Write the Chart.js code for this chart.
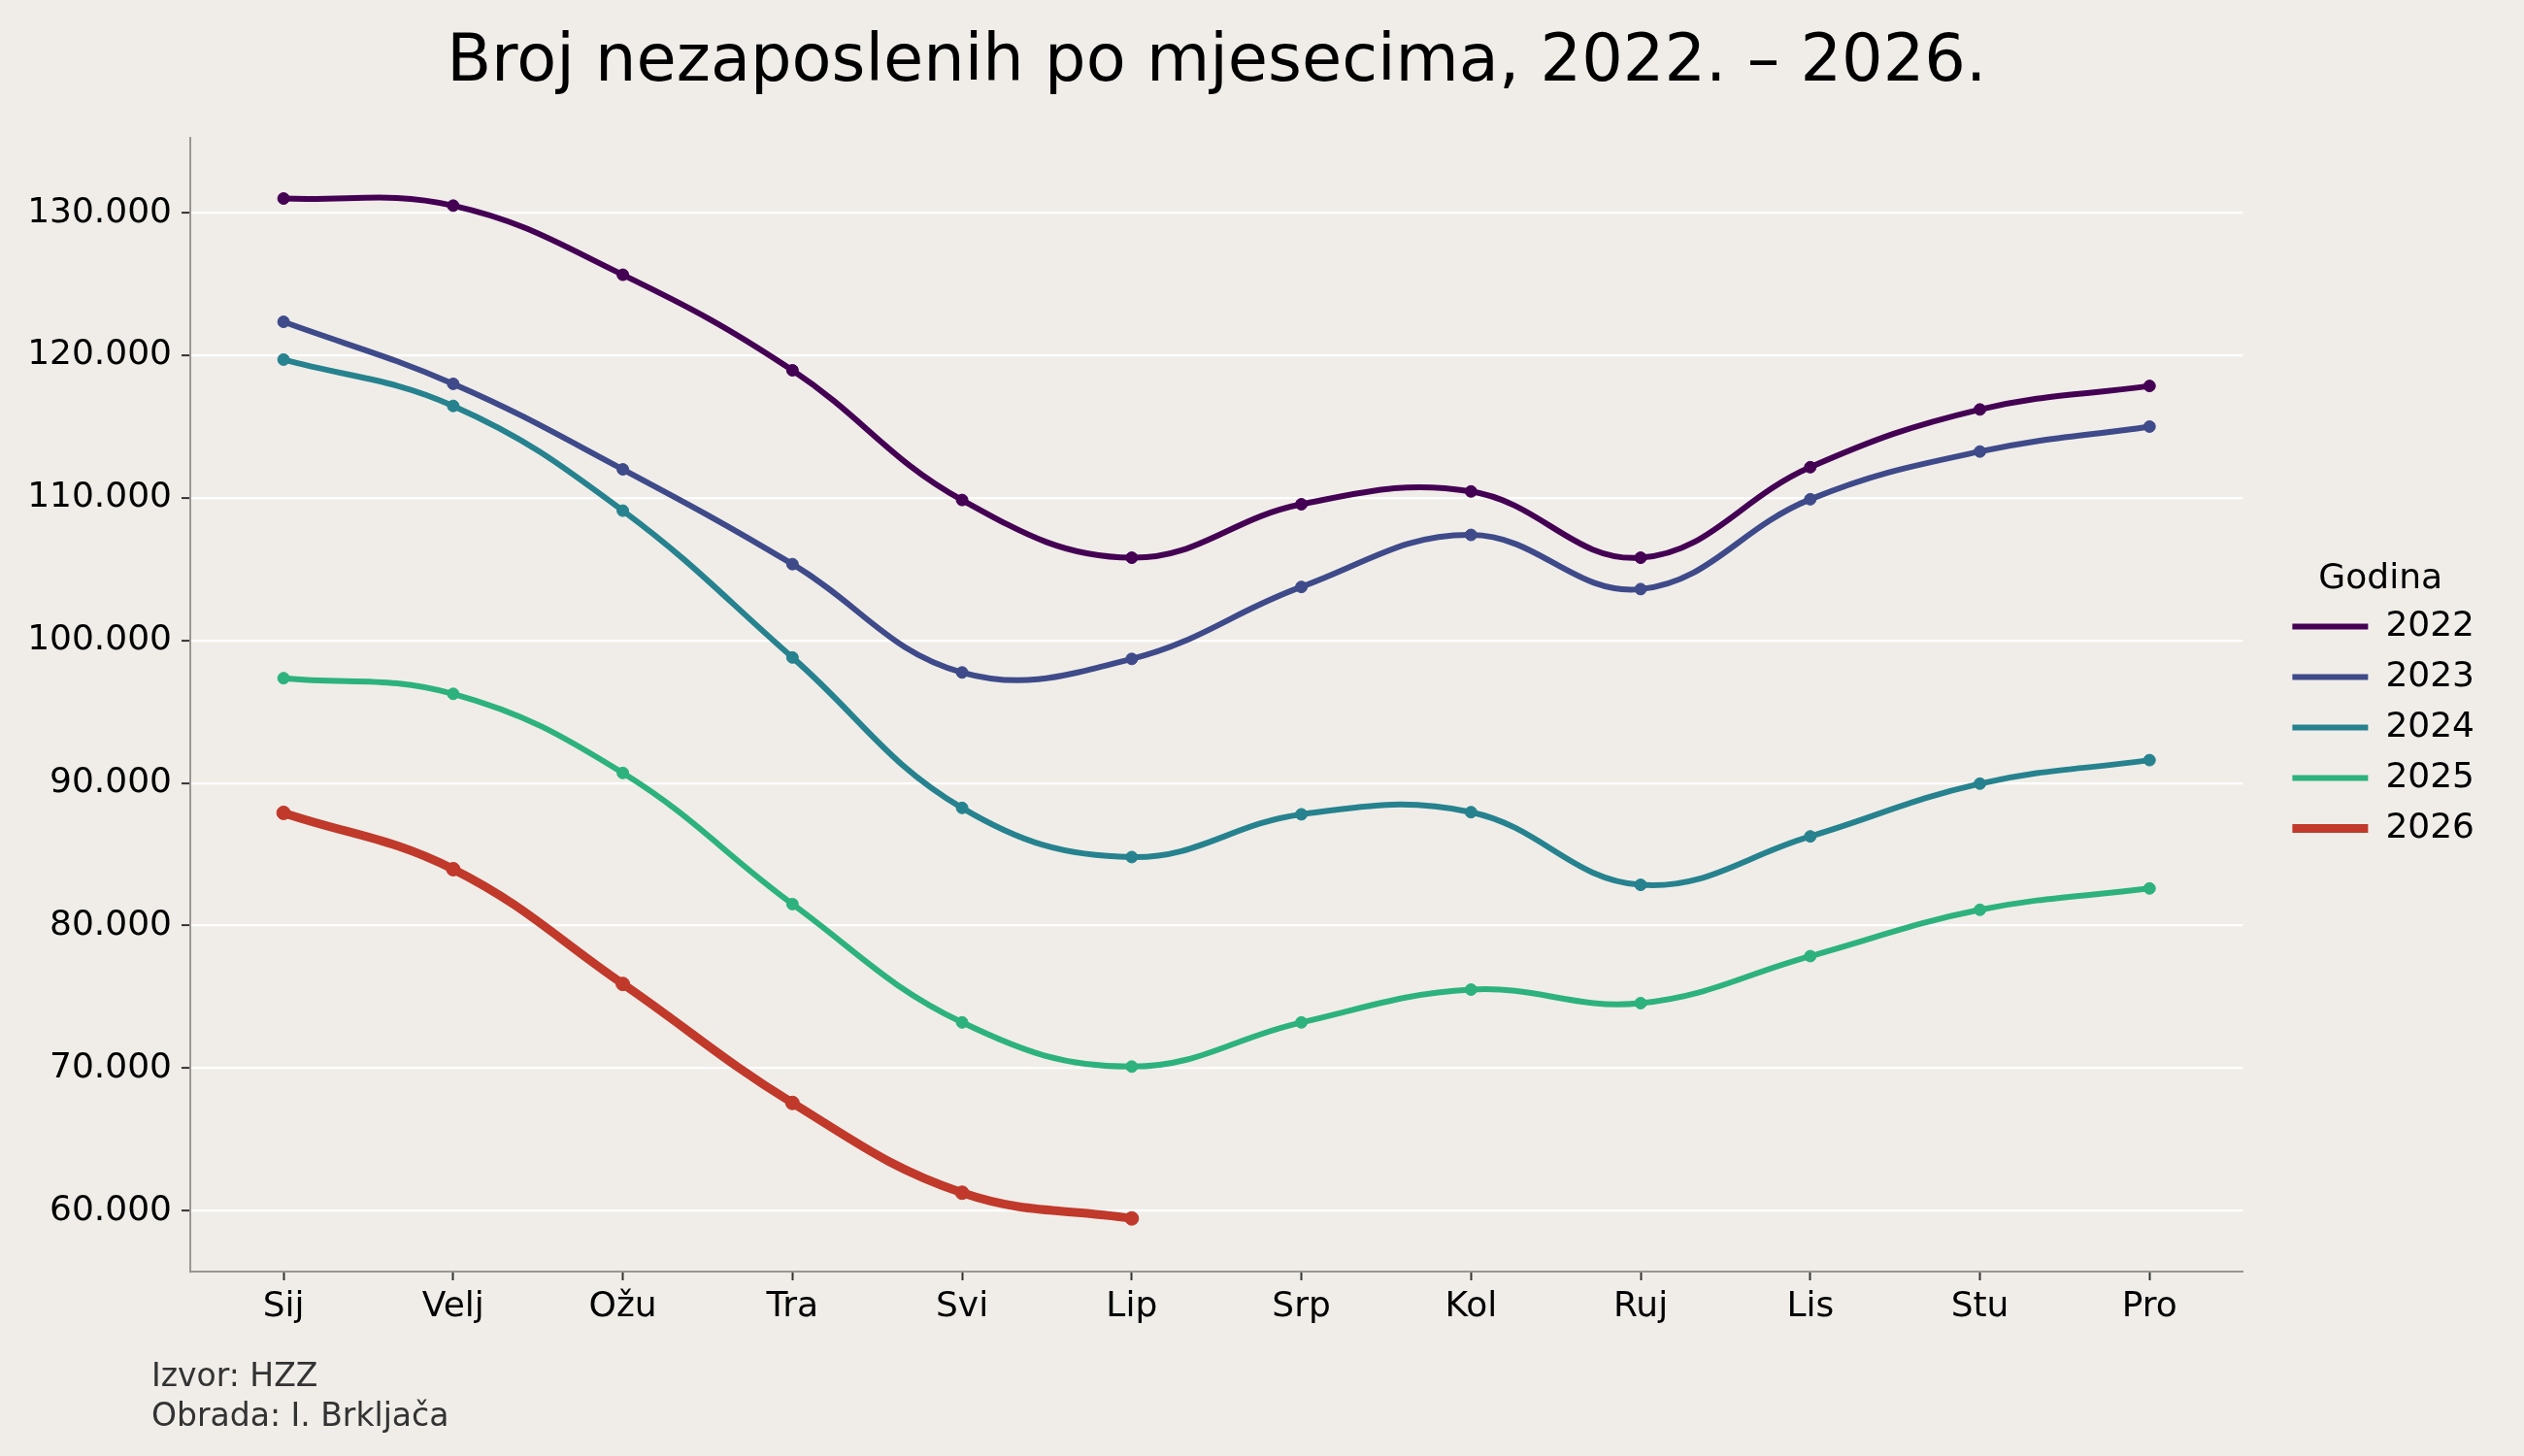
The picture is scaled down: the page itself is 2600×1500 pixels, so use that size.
<!DOCTYPE html>
<html lang="hr">
<head>
<meta charset="utf-8">
<title>Broj nezaposlenih po mjesecima, 2022. – 2026.</title>
<script src="https://cdn.jsdelivr.net/npm/chart.js@4.4.1/dist/chart.umd.min.js"></script>
<style>
  html, body { margin: 0; padding: 0; background: #f0ede8; }
  #wrap { position: relative; width: 2600px; height: 1500px; }
  #source {
    position: absolute;
    left: 156px;
    top: 1396px;
    font-family: "DejaVu Sans", sans-serif;
    font-size: 33px;
    line-height: 41px;
    color: #333333;
  }
</style>
</head>
<body>
<div id="wrap">
  <canvas id="chart"></canvas>
  <div id="source">Izvor: HZZ<br>Obrada: I. Brkljača</div>
</div>
<script>
// Data
const months = ["Sij", "Velj", "Ožu", "Tra", "Svi", "Lip", "Srp", "Kol", "Ruj", "Lis", "Stu", "Pro"];
const years = ["2022", "2023", "2024", "2025", "2026"];
const yTicks = [60000, 70000, 80000, 90000, 100000, 110000, 120000, 130000];

const y2022 = [131000, 130500, 125650, 118950, 109850, 105800, 109550, 110450, 105800, 112150, 116200, 117850];
const y2023 = [122350, 118000, 112000, 105350, 97750, 98700, 103750, 107400, 103600, 109900, 113250, 115000];
const y2024 = [119700, 116450, 109100, 98800, 88250, 84800, 87800, 87950, 82850, 86250, 89950, 91600];
const y2025 = [97350, 96250, 90700, 81500, 73200, 70100, 73200, 75500, 74550, 77850, 81100, 82600];
const y2026 = [87900, 83950, 75900, 67550, 61250, 59450];

const series = [y2022, y2023, y2024, y2025, y2026];
const colors = ["#440154", "#3e4a89", "#26828e", "#2db27d", "#c0392b"];

function formatThousands(v) {
  return String(Math.round(v)).replace(/\B(?=(\d{3})+(?!\d))/g, ".");
}

Chart.defaults.font.family = "'DejaVu Sans', sans-serif";
Chart.defaults.color = "#000000";

// push the legend a bit away from the plot, like the original
const legendGap = {
  id: "legendGap",
  afterLayout(chart) {
    chart.legend.left += 35;
    chart.legend.right += 35;
  }
};

const datasets = years.map((year, i) => {
  const last = i === years.length - 1;
  return {
    label: year,
    data: series[i].map((v, m) => ({ x: m, y: v })),
    borderColor: colors[i],
    backgroundColor: colors[i],
    pointBackgroundColor: colors[i],
    pointBorderColor: colors[i],
    borderWidth: last ? 9 : 6,
    pointRadius: last ? 7 : 6,
    pointBorderWidth: 1,
    tension: 0.4,
    fill: false
  };
});

new Chart(document.getElementById("chart"), {
  type: "line",
  data: { datasets: datasets },
  plugins: [legendGap],
  options: {
    responsive: true,
    maintainAspectRatio: false,
    devicePixelRatio: 1,
    animation: false,
    layout: { padding: { left: 0, right: 76, top: 0, bottom: 0 } },
    plugins: {
      title: {
        display: true,
        text: "Broj nezaposlenih po mjesecima, 2022. – 2026.",
        fullSize: false,
        color: "#000000",
        font: { size: 67, weight: "normal" },
        padding: { top: 25, bottom: 37 }
      },
      legend: {
        position: "right",
        fullSize: false,
        title: {
          display: true,
          text: "Godina",
          color: "#000000",
          font: { size: 36, lineHeight: 0.9 },
          padding: { top: 14, bottom: 0 }
        },
        labels: {
          usePointStyle: true,
          pointStyle: "line",
          pointStyleWidth: 78,
          padding: 16,
          color: "#000000",
          font: { size: 36 },
          // legend line takes the dataset's line width, not the marker's
          generateLabels: (chart) =>
            Chart.defaults.plugins.legend.labels.generateLabels(chart).map((item) => {
              item.lineWidth = chart.data.datasets[item.datasetIndex].borderWidth;
              item.strokeStyle = chart.data.datasets[item.datasetIndex].borderColor;
              return item;
            })
        }
      },
      tooltip: { enabled: false }
    },
    scales: {
      x: {
        type: "linear",
        min: -0.55,
        max: 11.55,
        afterFit: (scale) => { scale.height = 190; },
        afterBuildTicks: (scale) => { scale.ticks = months.map((m, i) => ({ value: i })); },
        grid: { drawOnChartArea: false, tickLength: 9, tickColor: "#333333", tickWidth: 2 },
        border: { color: "#9a9792", width: 2 },
        ticks: {
          autoSkip: false,
          maxRotation: 0,
          padding: 6,
          color: "#000000",
          font: { size: 36 },
          callback: (v) => months[v]
        }
      },
      y: {
        min: 55720,
        max: 135230,
        afterFit: (scale) => { scale.width = 196; },
        afterBuildTicks: (scale) => { scale.ticks = yTicks.map((v) => ({ value: v })); },
        grid: { color: "#ffffff", lineWidth: 2.2, tickLength: 9, tickColor: "#333333", tickWidth: 2 },
        border: { color: "#9a9792", width: 2 },
        ticks: {
          padding: 10,
          color: "#000000",
          font: { size: 36 },
          callback: (v) => formatThousands(v)
        }
      }
    }
  }
});
</script>
</body>
</html>
